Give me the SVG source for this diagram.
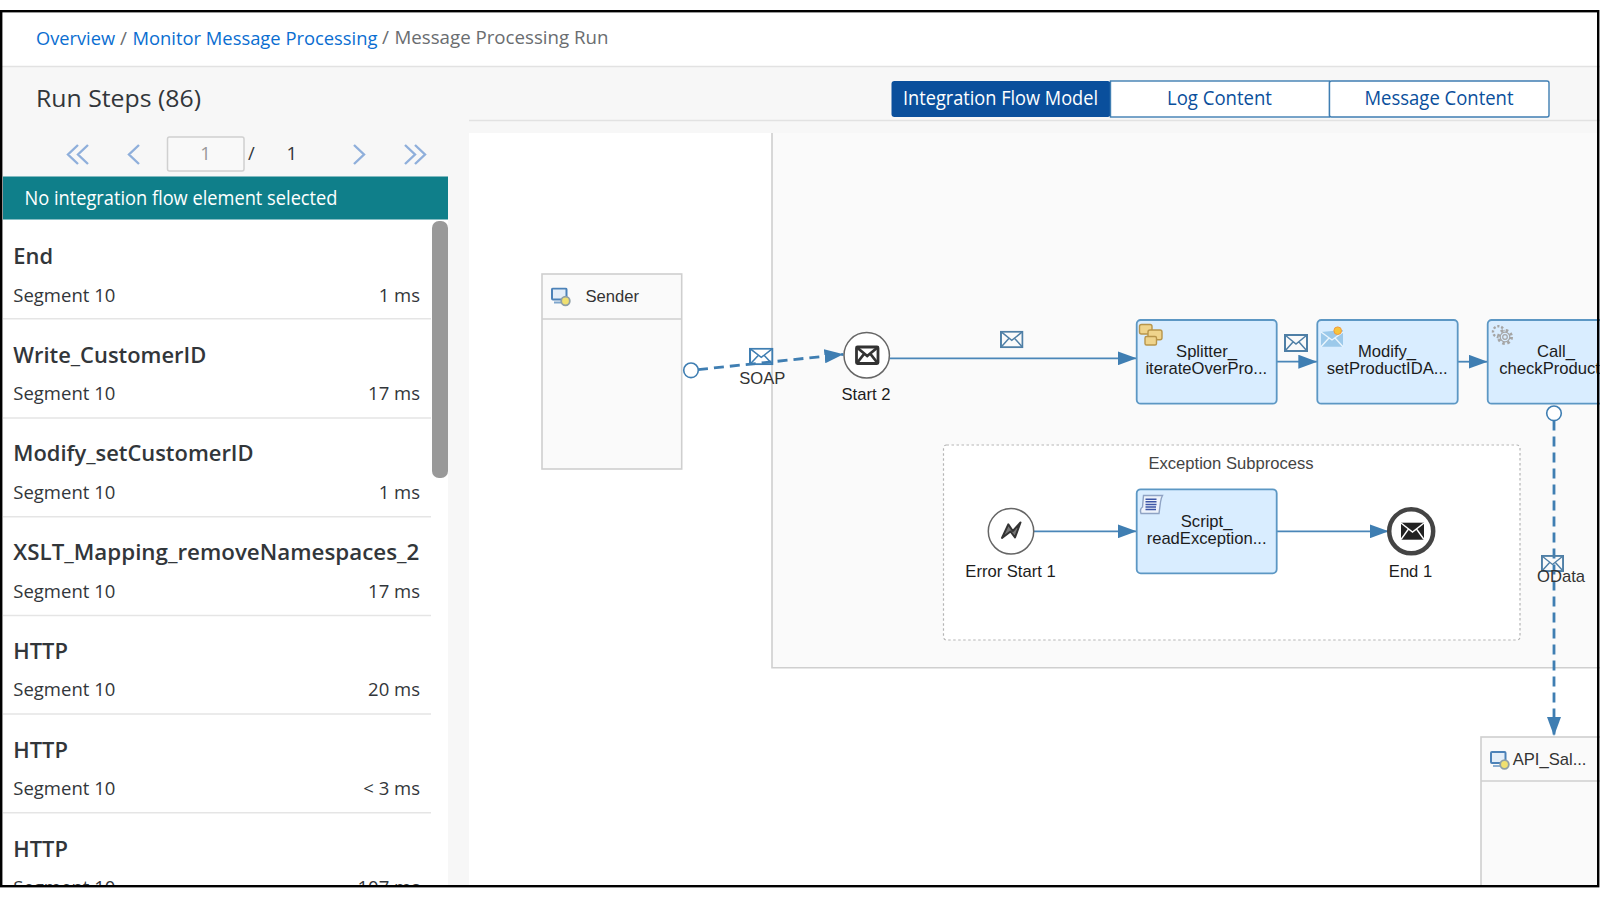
<svg xmlns="http://www.w3.org/2000/svg" width="1600" height="898" viewBox="0 0 1600 898">
<style>
text{font-family:"Open Sans","Noto Sans",sans-serif}
.d text,text.d{font-family:"Liberation Sans",Arial,sans-serif;font-size:16.6px;fill:#1c1c1c}
.m{text-anchor:middle}
.title{font-size:21.900px;font-weight:600;fill:#32363a}
.seg{font-size:18.500px;fill:#32363a}
.time{font-size:18.500px;fill:#32363a;text-anchor:end}
.sep{stroke:#e5e5e5;stroke-width:1.500}
.lnk{fill:#0a6ed1;font-size:19px;font-weight:500}
.gry{fill:#6a6d70;font-size:19px;font-weight:500}
.tab{font-size:19.500px;font-weight:500}
.task{fill:#d9edff;stroke:#5c97c4;stroke-width:1.800}
.ev{fill:#fff;stroke:#666;stroke-width:1.500}
.flow{fill:none;stroke:#4a86b8;stroke-width:1.800;marker-end:url(#arr)}
.msg{fill:none;stroke:#3f7eb2;stroke-width:2.800;stroke-dasharray:10 6;marker-end:url(#arr)}
.port{fill:#fff;stroke:#3f7eb2;stroke-width:1.600}
.pool{fill:#fafafa;stroke:#cfcfcf;stroke-width:1.600}
.env{fill:none;stroke:#4f7fa6;stroke-width:2}
.chev{fill:none;stroke:#8fafdb;stroke-width:2.400}
</style>
<defs>
<marker id="arr" markerUnits="userSpaceOnUse" markerWidth="20" markerHeight="14" refX="19" refY="7" orient="auto"><path d="M0 0L19 7L0 14Z" fill="#3f7eb2"/></marker>
<symbol id="env" viewBox="0 0 24 18" preserveAspectRatio="none"><rect x="1" y="1" width="22" height="16" fill="none"/><path d="M1 1L12 10L23 1M1 17L9 8M23 17L15 8" fill="none" stroke-width="1.500"/></symbol>
<symbol id="sys" viewBox="0 0 20 20"><rect x="1" y="1" width="14.500" height="11" rx="1" fill="#e4eef8" stroke="#4c82b8" stroke-width="2"/><path d="M3 15H10" stroke="#7ea5cc" stroke-width="1.800"/><circle cx="14.500" cy="13.500" r="4.300" fill="#f0e070" stroke="#8f9fa5" stroke-width="1.800"/></symbol>
</defs>

<rect width="1600" height="898" fill="#fff"/>
<rect x="0" y="66" width="1600" height="822" fill="#f7f7f7"/>
<path d="M0 66.500H1600" stroke="#e2e2e2" stroke-width="1.500"/>
<path d="M469 120.500H1600" stroke="#e2e2e2" stroke-width="1.500"/>

<g id="breadcrumb">
<text class="lnk" x="36" y="45" textLength="79" lengthAdjust="spacingAndGlyphs">Overview</text>
<text class="gry" x="120" y="45">/</text>
<text class="lnk" x="132.500" y="45" style="font-size:18.200px" textLength="245" lengthAdjust="spacingAndGlyphs">Monitor Message Processing</text>
<text class="gry" x="382" y="44">/</text>
<text class="gry" x="394.500" y="44" textLength="214" lengthAdjust="spacingAndGlyphs">Message Processing Run</text>
</g>

<g id="run-steps">
<text x="36" y="106.700" font-size="24" fill="#32363a" textLength="165" lengthAdjust="spacingAndGlyphs">Run Steps (86)</text>
<g id="pager">
<path class="chev" d="M78 145L68 154.500L78 164M88 145L78 154.500L88 164M139 145L129 154.500L139 164M354 145L364 154.500L354 164M405 145L415 154.500L405 164M415 145L425 154.500L415 164"/>
<rect x="167.500" y="137" width="76.500" height="34" rx="2" fill="#f9f9f9" stroke="#d0d0d0" stroke-width="1.500"/>
<text class="m" x="205.500" y="160" font-size="18.500" fill="#9a9a9a">1</text>
<text x="248" y="160" font-size="18.500" fill="#32363a">/</text>
<text class="m" x="291.800" y="160" font-size="18.500" fill="#32363a">1</text>
</g>
<rect id="list-bg" x="3" y="219" width="445" height="668" fill="#fff"/>
<g id="selection-bar"><rect x="3" y="176.500" width="445" height="43" fill="#0f7f8a"/>
<text x="24.500" y="204.500" font-size="19.500" font-weight="500" fill="#fff" textLength="313" lengthAdjust="spacingAndGlyphs">No integration flow element selected</text></g>
<rect id="scrollbar" x="432" y="221" width="16" height="257" rx="7" fill="#999"/>
<g id="step-1"><text class="title" x="13.300" y="263.800">End</text><text class="seg" x="13.300" y="301.700">Segment 10</text><text class="time" x="420" y="301.700">1 ms</text><path class="sep" d="M3 318.700H431"/></g>
<g id="step-2"><text class="title" x="13.300" y="362.800">Write_CustomerID</text><text class="seg" x="13.300" y="400.400">Segment 10</text><text class="time" x="420" y="400.400">17 ms</text><path class="sep" d="M3 418H431"/></g>
<g id="step-3"><text class="title" x="13.300" y="461.300">Modify_setCustomerID</text><text class="seg" x="13.300" y="499.100">Segment 10</text><text class="time" x="420" y="499.100">1 ms</text><path class="sep" d="M3 516.800H431"/></g>
<g id="step-4"><text class="title" x="13.300" y="559.800" textLength="406" lengthAdjust="spacingAndGlyphs">XSLT_Mapping_removeNamespaces_2</text><text class="seg" x="13.300" y="597.500">Segment 10</text><text class="time" x="420" y="597.500">17 ms</text><path class="sep" d="M3 615.500H431"/></g>
<g id="step-5"><text class="title" x="13.300" y="659.300">HTTP</text><text class="seg" x="13.300" y="695.800">Segment 10</text><text class="time" x="420" y="695.800">20 ms</text><path class="sep" d="M3 714H431"/></g>
<g id="step-6"><text class="title" x="13.300" y="758">HTTP</text><text class="seg" x="13.300" y="794.800">Segment 10</text><text class="time" x="420" y="794.800">&lt; 3 ms</text><path class="sep" d="M3 812.700H431"/></g>
<g id="step-7"><text class="title" x="13.300" y="856.500">HTTP</text><text class="seg" x="13.300" y="893.500">Segment 10</text><text class="time" x="420" y="893.500">107 ms</text></g>
</g>

<g id="tabs">
<rect x="891.500" y="81" width="219" height="36" rx="3" fill="#0a4f9c"/>
<text class="m tab" x="1000.500" y="105" fill="#fff" textLength="195" lengthAdjust="spacingAndGlyphs">Integration Flow Model</text>
<rect x="1110.500" y="81" width="219" height="36" fill="#fff" stroke="#3f7eb2" stroke-width="1.400"/>
<text class="m tab" x="1219.500" y="105" fill="#0a4f9c" textLength="105" lengthAdjust="spacingAndGlyphs">Log Content</text>
<rect x="1329.500" y="81" width="219.500" height="36" rx="2" fill="#fff" stroke="#3f7eb2" stroke-width="1.400"/>
<text class="m tab" x="1439" y="105" fill="#0a4f9c" textLength="149" lengthAdjust="spacingAndGlyphs">Message Content</text>
</g>

<g id="canvas">
<rect x="469" y="133" width="1131" height="754" fill="#fff"/>
<rect x="772" y="133" width="830" height="534.700" fill="#fafafa"/>
<path d="M772 133V667.700H1600" fill="none" stroke="#cfcfcf" stroke-width="1.600"/>
</g>

<g id="exception-subprocess" class="d">
<rect x="943.500" y="445" width="576.500" height="195" rx="3" fill="#fff" stroke="#b5b5b5" stroke-width="1.200" stroke-dasharray="2.500 2.500"/>
<text class="m" x="1231" y="469.400" style="fill:#444">Exception Subprocess</text>
</g>

<g id="sender" class="d">
<rect class="pool" x="542" y="274" width="139.700" height="195"/>
<path d="M542 319H681.700" stroke="#cfcfcf" stroke-width="1.600"/>
<use href="#sys" x="551" y="287.500" width="20" height="20"/>
<text x="585.500" y="301.700" style="fill:#333">Sender</text>
</g>

<g id="api-sal" class="d">
<rect class="pool" x="1481" y="737" width="125" height="160"/>
<path d="M1481 781H1600" stroke="#cfcfcf" stroke-width="1.600"/>
<use href="#sys" x="1490" y="751" width="20" height="20"/>
<text x="1512.700" y="765" style="fill:#333">API_Sal...</text>
</g>

<g id="connectors">
<path class="msg" d="M698 369.600L843.500 354.300"/>
<path class="flow" d="M889.500 358.300H1136.700"/>
<path class="flow" d="M1276.700 361.700H1317.300"/>
<path class="flow" d="M1457.700 361.700H1487.700"/>
<path class="msg" d="M1554 420.500V736"/>
<path class="flow" d="M1033.700 531.300H1136.700"/>
<path class="flow" d="M1276.700 531.300H1388.700"/>
<circle class="port" cx="691" cy="370.300" r="7.300"/>
<circle class="port" cx="1554" cy="413.300" r="7.300"/>
<g class="env" style="stroke:#3f7eb2"><use href="#env" x="749" y="347.700" width="24.500" height="17.500"/></g>
<text class="d m" x="762.300" y="384" style="fill:#333">SOAP</text>
<g class="env"><use href="#env" x="1000" y="330.700" width="23.500" height="17.500"/></g>
<g class="env"><use href="#env" x="1284" y="334" width="24" height="18"/></g>
<g class="env"><use href="#env" x="1541" y="555" width="23" height="17"/></g>
<text class="d m" x="1561" y="582.300" style="fill:#333">OData</text>
</g>

<g id="start-2" class="d">
<circle class="ev" cx="866.700" cy="355.300" r="22.700"/>
<g fill="none" stroke="#333" stroke-width="2.800"><rect x="856.500" y="347" width="21.500" height="16.500" rx="1"/><path d="M857 347.500L867.200 356L877.500 347.500M857 363L864 354M877.500 363L870.500 354"/></g>
<text class="m" x="866" y="400">Start 2</text>
</g>

<g id="splitter" class="d">
<rect class="task" x="1136.700" y="320" width="140" height="83.700" rx="4"/>
<g fill="#efd48c" stroke="#b8954a" stroke-width="1.400"><rect x="1139.500" y="324.500" width="12.500" height="9.500" rx="2"/><rect x="1148" y="330" width="14" height="9.700" rx="2"/><rect x="1145" y="336.500" width="11.500" height="8.500" rx="1.500"/></g>
<text class="m" x="1206.500" y="357.300">Splitter_</text>
<text class="m" x="1206.300" y="373.600">iterateOverPro...</text>
</g>

<g id="modify" class="d">
<rect class="task" x="1317.300" y="320" width="140.400" height="83.700" rx="4"/>
<path d="M1321 332L1343 330V346.700H1321Z" fill="#9cc9ea"/><path d="M1321 332L1332 340L1343 332M1321 346.700L1329 338M1343 346.700L1335 338" fill="none" stroke="#eaf5fd" stroke-width="1.400"/><circle cx="1337.700" cy="330.700" r="3.800" fill="#f6c53c" stroke="#f39a3c" stroke-width="1"/>
<text class="m" x="1387" y="357.300">Modify_</text>
<text class="m" x="1387.200" y="373.600">setProductIDA...</text>
</g>

<g id="call" class="d">
<rect class="task" x="1487.700" y="320" width="130" height="83.700" rx="4"/>
<g fill="none" stroke="#a5a5a5"><circle cx="1498.500" cy="331.700" r="5.500" stroke-width="2.400" stroke-dasharray="2.200 1.800"/><circle cx="1505" cy="337" r="6.500" fill="#d9edff" stroke-width="3" stroke-dasharray="2.500 2.600"/><circle cx="1505" cy="337" r="4.800" stroke-width="1.200"/><circle cx="1505" cy="337" r="2.300" stroke-width="1.200"/></g>
<text class="m" x="1556" y="357.300">Call_</text>
<text x="1499.300" y="373.600">checkProduct</text>
</g>

<g id="error-start-1" class="d">
<circle class="ev" cx="1011" cy="531.300" r="22.700"/>
<path d="M1002 538L1008.300 524.300L1012.800 531L1020.500 522.500L1015 537.500L1010.500 531.500Z" fill="#777" stroke="#333" stroke-width="2" stroke-linejoin="round"/>
<text class="m" x="1010.500" y="577.300">Error Start 1</text>
</g>

<g id="script" class="d">
<rect class="task" x="1136.700" y="489.300" width="140" height="84" rx="4"/>
<path d="M1143.500 495.500H1162.500Q1161 498 1160.500 502L1159 513.500H1141Q1139.500 509 1142.500 507Z" fill="#eef3fb" stroke="#8fa3c4" stroke-width="1.400"/><path d="M1145.500 499.200H1156.500M1145.500 501.800H1156.500M1145.500 504.400H1156.500M1145.500 507H1156M1145.500 509.600H1156" stroke="#3d56a6" stroke-width="1.500"/>
<text class="m" x="1206.600" y="526.500">Script_</text>
<text class="m" x="1206.600" y="543.500">readException...</text>
</g>

<g id="end-1" class="d">
<circle cx="1411.200" cy="531.300" r="22" fill="#fff" stroke="#444" stroke-width="4.500"/>
<rect x="1401" y="522.700" width="23" height="17" fill="#222"/>
<path d="M1401 523L1412.500 532L1424 523M1401 539.500L1408.500 529M1424 539.500L1416.500 529" fill="none" stroke="#fff" stroke-width="1.400"/>
<text class="m" x="1410.500" y="577.300">End 1</text>
</g>

<g id="frame">
<rect x="0" y="0" width="1600" height="10" fill="#fff"/>
<rect x="0" y="887" width="1600" height="11" fill="#fff"/>
<rect x="1.200" y="11.200" width="1597" height="875" fill="none" stroke="#000" stroke-width="2.400"/>
</g>
</svg>
